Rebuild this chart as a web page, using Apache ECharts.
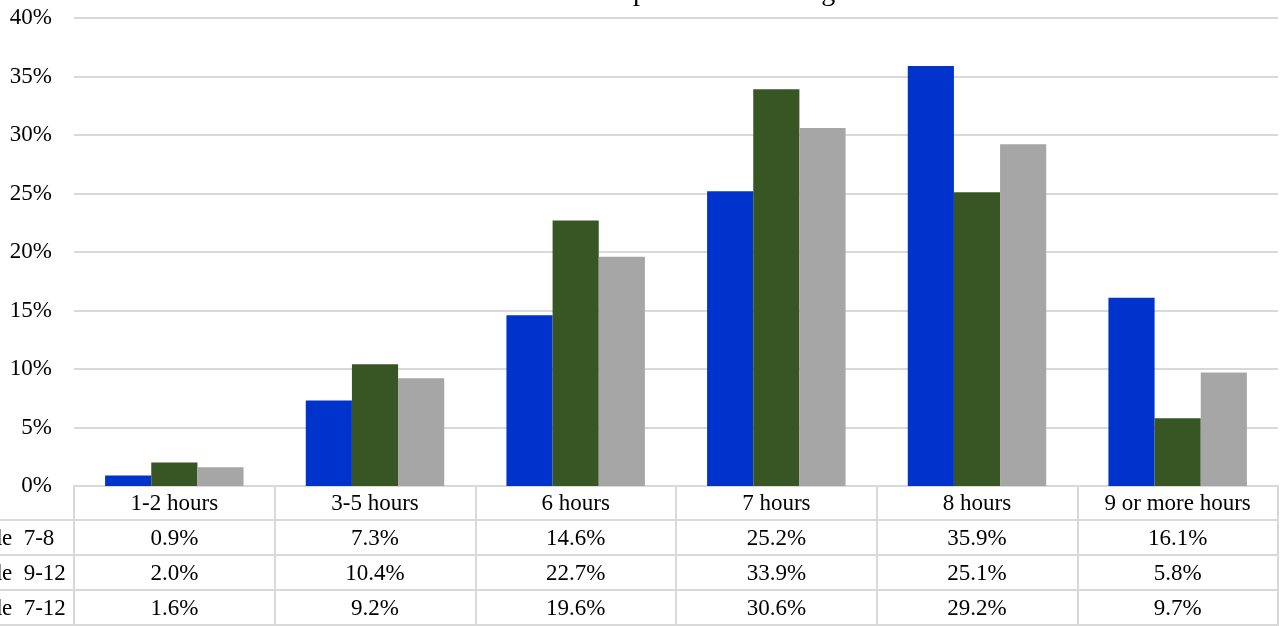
<!DOCTYPE html>
<html>
<head>
<meta charset="utf-8">
<script src="https://cdn.jsdelivr.net/npm/echarts@6/dist/echarts.min.js"></script>
<style>
  html, body { margin: 0; padding: 0; background: #fff; }
  #chart { width: 1282px; height: 626px; }
</style>
</head>
<body>
<div id="chart"></div>
<script>
// Hours of sleep by grade group (share of students)
const titleText = 'Hours of Sleep on a School Night';
const categories = ['1-2 hours', '3-5 hours', '6 hours', '7 hours', '8 hours', '9 or more hours'];
const seriesNames = ['Grade  7-8', 'Grade  9-12', 'Grade  7-12'];
const grade78 = [0.9, 7.3, 14.6, 25.2, 35.9, 16.1];
const grade912 = [2.0, 10.4, 22.7, 33.9, 25.1, 5.8];
const grade712 = [1.6, 9.2, 19.6, 30.6, 29.2, 9.7];
const seriesValues = [grade78, grade912, grade712];
const seriesColors = ['#0033cc', '#375623', '#a6a6a6'];

const FONT = '"Liberation Serif", "DejaVu Serif", serif';
const FS = 23;
const GRID_LEFT = 74, GRID_RIGHT = 4, GRID_TOP = 18, GRID_BOTTOM = 140;
const ROW_H = 35;
const LINE = '#d9d9d9';

const chart = echarts.init(document.getElementById('chart'));

// Data table below the plot: header row + one row per series
const axisY = 626 - GRID_BOTTOM;
const tableGraphics = [];
for (let r = 1; r <= seriesNames.length + 1; r++) {
  const y = axisY + r * ROW_H - 1;
  tableGraphics.push({
    type: 'line',
    shape: { x1: 0, y1: y, x2: 1282 - GRID_RIGHT, y2: y },
    style: { stroke: LINE, lineWidth: 2 },
    silent: true
  });
}
seriesNames.forEach((name, i) => {
  tableGraphics.push({
    type: 'text',
    x: -44,
    y: axisY + (i + 1) * ROW_H + ROW_H / 2,
    style: {
      text: name,
      font: FS + 'px ' + FONT,
      fill: '#000',
      textAlign: 'left',
      textVerticalAlign: 'middle'
    },
    silent: true
  });
});
// Chart title sits above the top edge of the canvas
tableGraphics.push({
  type: 'text',
  x: 479,
  y: 7,
  style: {
    text: titleText,
    font: '28px ' + FONT,
    fill: '#000',
    textAlign: 'left',
    textVerticalAlign: 'bottom'
  },
  silent: true
});

chart.setOption({
  animation: false,
  backgroundColor: '#fff',
  grid: { left: GRID_LEFT, right: GRID_RIGHT, top: GRID_TOP, bottom: GRID_BOTTOM },
  xAxis: {
    type: 'category',
    data: categories,
    boundaryGap: true,
    axisLine: { show: true, lineStyle: { color: LINE, width: 2 } },
    axisTick: {
      show: true,
      alignWithLabel: false,
      inside: false,
      length: ROW_H * 4,
      lineStyle: { color: LINE, width: 2 }
    },
    axisLabel: {
      margin: 0,
      interval: 0,
      color: '#000',
      fontFamily: FONT,
      fontSize: FS,
      lineHeight: ROW_H,
      formatter: function (value, idx) {
        const lines = [value];
        seriesValues.forEach(arr => lines.push(arr[idx].toFixed(1) + '%'));
        return lines.join('\n');
      }
    }
  },
  yAxis: {
    type: 'value',
    min: 0,
    max: 40,
    interval: 5,
    axisLine: { show: false },
    axisTick: { show: false },
    splitLine: { lineStyle: { color: LINE, width: 2 } },
    axisLabel: {
      margin: 22,
      color: '#000',
      fontFamily: FONT,
      fontSize: FS,
      formatter: '{value}%'
    }
  },
  series: seriesNames.map((name, i) => ({
    name: name,
    type: 'bar',
    data: seriesValues[i],
    barGap: '0%',
    barCategoryGap: '31%',
    itemStyle: { color: seriesColors[i] }
  })),
  graphic: tableGraphics
});
</script>
</body>
</html>
